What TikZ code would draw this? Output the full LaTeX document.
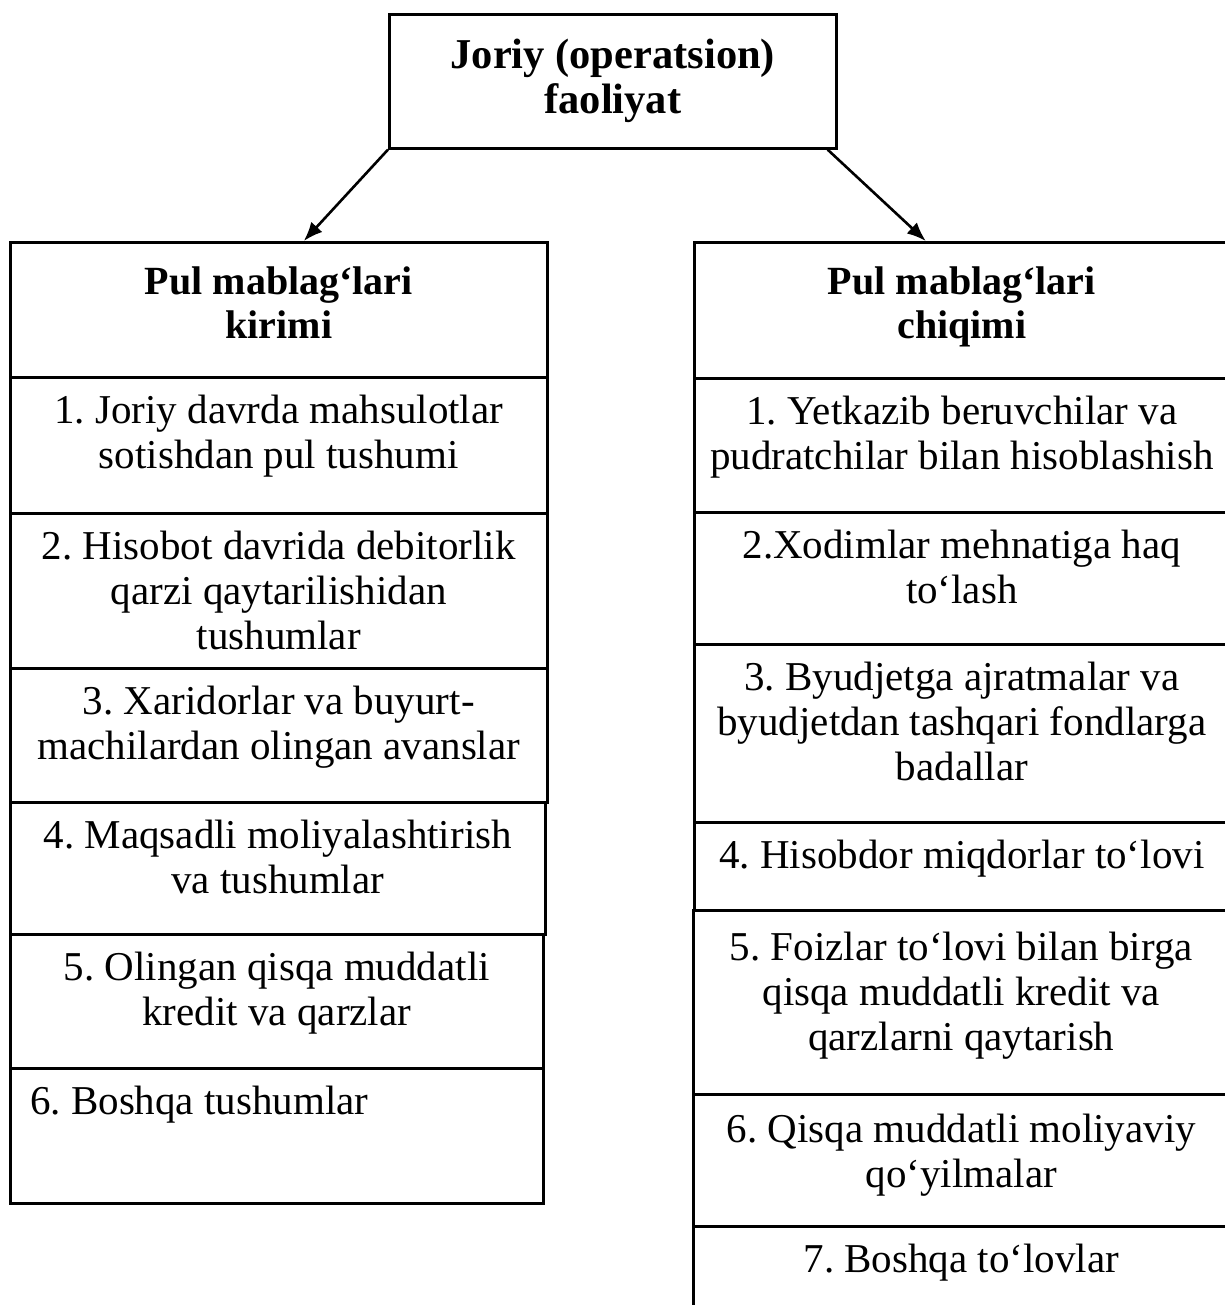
\documentclass[tikz,border=0pt]{standalone}
\usepackage{fontspec}
\setmainfont{Liberation Serif}
\usetikzlibrary{arrows.meta}
\frenchspacing
\begin{document}
\begin{tikzpicture}[x=1pt, y=-1pt,
        cell/.style={draw, line width=2.6pt, inner sep=0pt, anchor=north west},
        txt/.style={anchor=north, inner sep=0pt, align=center, yshift=-19pt, font=\fontsize{41}{45}\selectfont},
        head/.style={anchor=north, inner sep=0pt, align=center, yshift=-26pt, font=\fontsize{40}{44}\selectfont\bfseries},
        arr/.style={-{Latex[length=19pt,width=15pt]}, line width=2.6pt}]
        \useasboundingbox (0,0) rectangle (1224,1305);
        \node[cell, minimum width=447pt, minimum height=134pt, label={[head, font=\fontsize{42.5}{45}\selectfont\bfseries]north:{Joriy (operatsion)\\faoliyat}}] (joriy) at (388,13) {};

        \node[cell, minimum width=537pt, minimum height=135pt, label={[head]north:{Pul mablag‘lari\\kirimi}}] (kirim) at (9,241) {};
        \node[cell, minimum width=537pt, minimum height=136pt, label={[txt]north:{1. Joriy davrda mahsulotlar\\sotishdan pul tushumi}}] (k1) at (9,376) {};
        \node[cell, minimum width=537pt, minimum height=155pt, label={[txt]north:{2. Hisobot davrida debitorlik\\qarzi qaytarilishidan\\tushumlar}}] (k2) at (9,512) {};
        \node[cell, minimum width=537pt, minimum height=134pt, label={[txt]north:{3. Xaridorlar va buyurt-\\machilardan olingan avanslar}}] (k3) at (9,667) {};
        \node[cell, minimum width=535pt, minimum height=132pt, label={[txt]north:{4. Maqsadli moliyalashtirish\\va tushumlar}}] (k4) at (9,801) {};
        \node[cell, minimum width=533pt, minimum height=134pt, label={[txt]north:{5. Olingan qisqa muddatli\\kredit va qarzlar}}] (k5) at (9,933) {};
        \node[cell, minimum width=533pt, minimum height=135pt, label={[txt, anchor=north west, xshift=21pt]north west:{6. Boshqa tushumlar}}] (k6) at (9,1067) {};

        \node[cell, minimum width=535pt, minimum height=136pt, label={[head]north:{Pul mablag‘lari\\chiqimi}}] (chiqim) at (693,241) {};
        \node[cell, minimum width=535pt, minimum height=134pt, label={[txt]north:{1. Yetkazib beruvchilar va\\pudratchilar bilan hisoblashish}}] (c1) at (693,377) {};
        \node[cell, minimum width=535pt, minimum height=132pt, label={[txt]north:{2.Xodimlar mehnatiga haq\\to‘lash}}] (c2) at (693,511) {};
        \node[cell, minimum width=535pt, minimum height=178pt, label={[txt]north:{3. Byudjetga ajratmalar va\\byudjetdan tashqari fondlarga\\badallar}}] (c3) at (693,643) {};
        \node[cell, minimum width=535pt, minimum height=88pt, label={[txt]north:{4. Hisobdor miqdorlar to‘lovi}}] (c4) at (693,821) {};
        \node[cell, minimum width=536pt, minimum height=184pt, label={[txt, yshift=-4pt]north:{5. Foizlar to‘lovi bilan birga\\qisqa muddatli kredit va\\qarzlarni qaytarish}}] (c5) at (692,909) {};
        \node[cell, minimum width=536pt, minimum height=132pt, label={[txt, yshift=-2pt]north:{6. Qisqa muddatli moliyaviy\\qo‘yilmalar}}] (c6) at (692,1093) {};
        \node[cell, minimum width=536pt, minimum height=100pt, label={[txt]north:{7. Boshqa to‘lovlar}}] (c7) at (692,1225) {};

        \draw[arr] (joriy.south west) -- ([xshift=25pt]kirim.north);
        \draw[arr] ([xshift=-10pt]joriy.south east) -- ([xshift=-36pt]chiqim.north);
    \end{tikzpicture}
\end{document}
